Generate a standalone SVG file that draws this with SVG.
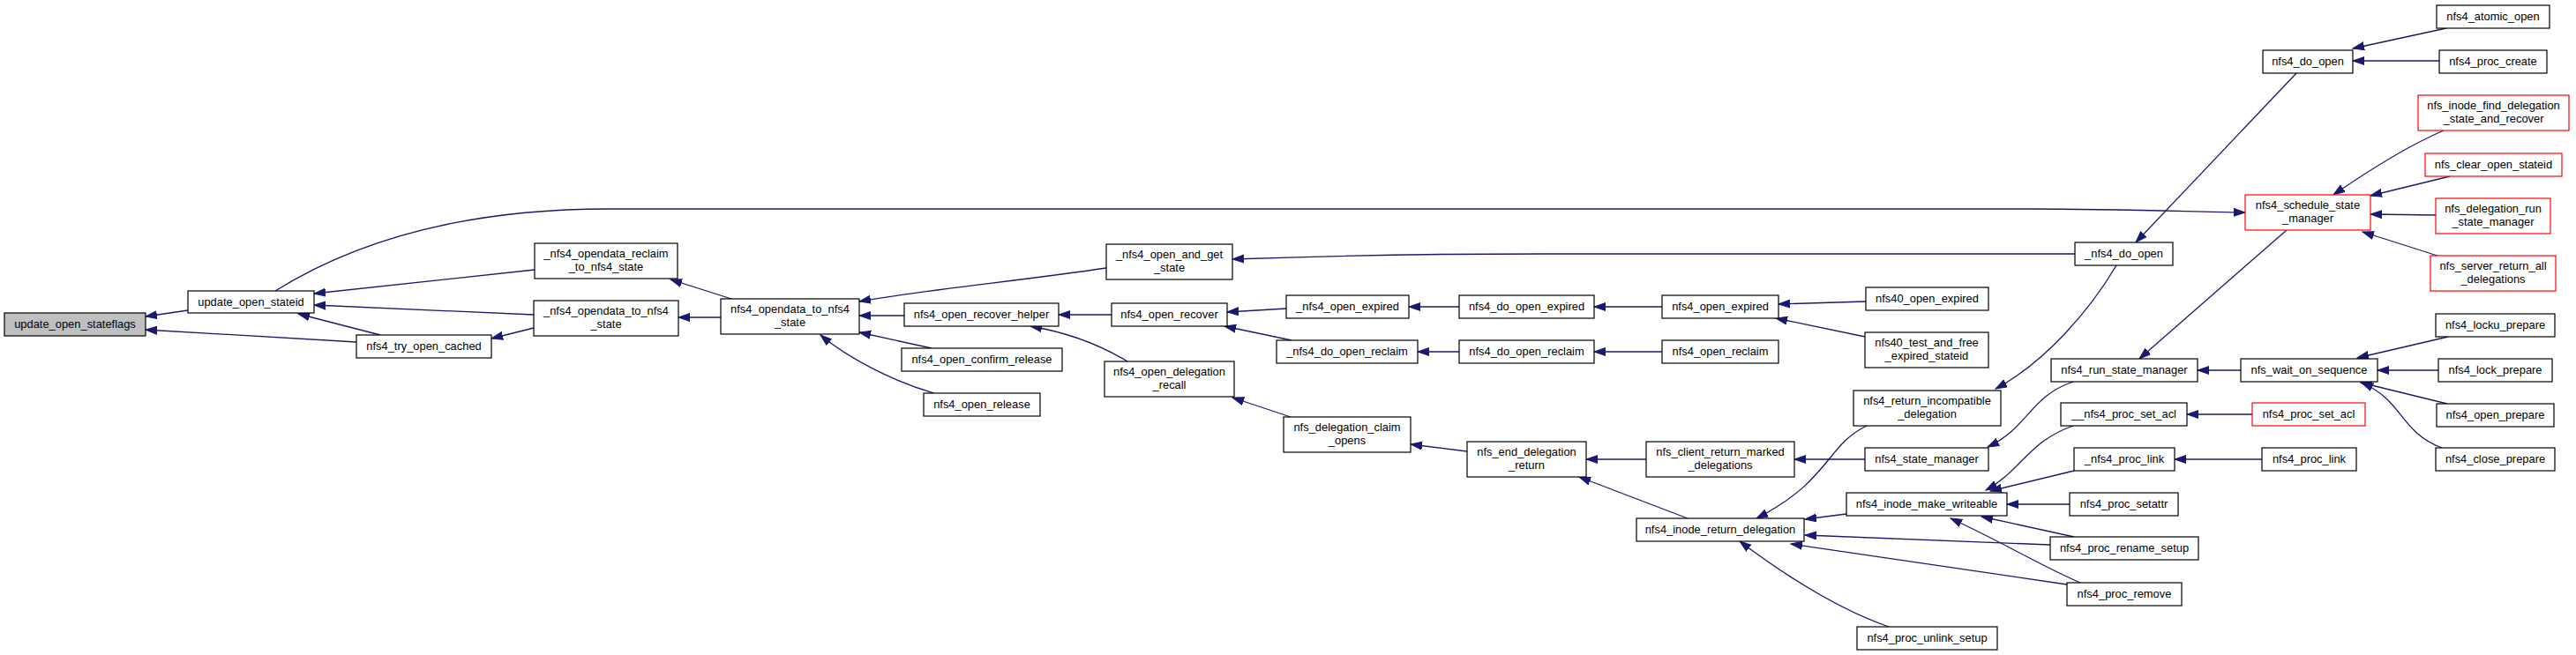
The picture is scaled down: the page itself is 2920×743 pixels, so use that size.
<svg xmlns="http://www.w3.org/2000/svg" width="2920" height="743" viewBox="0 0 2920 743">
<style>
.n rect{fill:#fff;stroke:#000;stroke-width:1.2}
.n.r rect{stroke:#ff0000}
.n.m rect{fill:#bfbfbf}
.n text{font-family:"Liberation Sans",Arial,sans-serif;font-size:12.9px;fill:#000;text-anchor:middle}
#edges path{fill:none;stroke:#191970;stroke-width:1.3;marker-end:url(#a)}
</style>
<defs>
<marker id="a" markerUnits="userSpaceOnUse" markerWidth="16" markerHeight="12" refX="13" refY="5" orient="auto"><path d="M0,0.5 L13,5 L0,9.5 z" fill="#191970" stroke="#191970" stroke-width="1"/></marker>
</defs>
<rect width="2920" height="743" fill="#fff"/>
<g id="edges">
<path d="M213,352 L165,359"/>
<path d="M404,388 L165,374"/>
<path d="M606,306 L356,333"/>
<path d="M605,357 L356,346"/>
<path d="M431,380 L338,356"/>
<path d="M605,372 L557,384"/>
<path d="M312,330 C400,275 520,237 690,237 L2300,237 C2400,237 2480,240 2545,241"/>
<path d="M829,339 L760,317"/>
<path d="M817,360 L769,360"/>
<path d="M1254,304 C1160,318 1040,330 974,342"/>
<path d="M1025,358 L974,358"/>
<path d="M1056,395 L974,377"/>
<path d="M1059,446 C1010,432 960,405 930,380"/>
<path d="M1260,357 L1200,357"/>
<path d="M1278,410 C1250,393 1215,378 1168,370"/>
<path d="M2352,288 L1750,288 C1600,288 1480,291 1397,294"/>
<path d="M1458,350 L1391,354"/>
<path d="M1464,386 L1388,370"/>
<path d="M1463,473 L1397,451"/>
<path d="M1654,348 L1597,348"/>
<path d="M1884,348 L1807,348"/>
<path d="M2115,342 L2016,345"/>
<path d="M2114,382 L2013,361"/>
<path d="M1654,399 L1607,399"/>
<path d="M1884,399 L1807,399"/>
<path d="M1663,512 L1599,504"/>
<path d="M1866,521 L1798,521"/>
<path d="M1913,588 L1790,541"/>
<path d="M2592,261 L2425,407"/>
<path d="M2604,82 L2421,275"/>
<path d="M2399,301 C2370,350 2320,410 2262,441"/>
<path d="M2773,32 L2667,55"/>
<path d="M2765,69 L2667,69"/>
<path d="M2770,148 C2730,165 2690,190 2645,221"/>
<path d="M2777,200 L2687,222"/>
<path d="M2761,244 L2687,243"/>
<path d="M2766,291 L2678,263"/>
<path d="M2540,420 L2491,420"/>
<path d="M2775,382 L2672,406"/>
<path d="M2764,420 L2695,420"/>
<path d="M2774,458 L2676,434"/>
<path d="M2768,508 C2720,490 2725,455 2677,434"/>
<path d="M2350,433 C2300,450 2300,485 2253,507"/>
<path d="M2114,521 L2034,521"/>
<path d="M2116,483 C2070,505 2075,545 1991,588"/>
<path d="M2553,470 L2479,470"/>
<path d="M2350,483 C2300,500 2290,535 2251,556"/>
<path d="M2564,521 L2465,521"/>
<path d="M2351,534 L2256,557"/>
<path d="M2346,572 L2275,572"/>
<path d="M2351,609 L2246,586"/>
<path d="M2358,661 C2310,640 2270,615 2211,588"/>
<path d="M2093,583 L2046,589"/>
<path d="M2324,618 L2046,607"/>
<path d="M2343,663 L2030,617"/>
<path d="M2141,711 C2080,690 2020,650 1972,614"/>
</g>
<g id="update_open_stateflags" class="n m"><rect x="5" y="355" width="160" height="26"/><text x="85" y="372">update_open_stateflags</text></g>
<g id="update_open_stateid" class="n"><rect x="213" y="330" width="143" height="25"/><text x="284.5" y="347">update_open_stateid</text></g>
<g id="nfs4_try_open_cached" class="n"><rect x="404" y="380" width="153" height="26"/><text x="480.5" y="397">nfs4_try_open_cached</text></g>
<g id="_nfs4_opendata_reclaim_to_nfs4_state" class="n"><rect x="606" y="276" width="162" height="40"/><text x="687" y="292">_nfs4_opendata_reclaim</text><text x="687" y="307">_to_nfs4_state</text></g>
<g id="_nfs4_opendata_to_nfs4_state" class="n"><rect x="605" y="341" width="164" height="40"/><text x="687" y="357">_nfs4_opendata_to_nfs4</text><text x="687" y="372">_state</text></g>
<g id="nfs4_opendata_to_nfs4_state" class="n"><rect x="817" y="339" width="157" height="40"/><text x="895.5" y="355">nfs4_opendata_to_nfs4</text><text x="895.5" y="370">_state</text></g>
<g id="nfs4_open_recover_helper" class="n"><rect x="1025" y="344" width="175" height="26"/><text x="1112.5" y="361">nfs4_open_recover_helper</text></g>
<g id="nfs4_open_confirm_release" class="n"><rect x="1022" y="395" width="182" height="26"/><text x="1113" y="412">nfs4_open_confirm_release</text></g>
<g id="nfs4_open_release" class="n"><rect x="1047" y="446" width="132" height="26"/><text x="1113" y="463">nfs4_open_release</text></g>
<g id="_nfs4_open_and_get_state" class="n"><rect x="1254" y="277" width="143" height="40"/><text x="1325.5" y="293">_nfs4_open_and_get</text><text x="1325.5" y="308">_state</text></g>
<g id="nfs4_open_recover" class="n"><rect x="1260" y="344" width="131" height="26"/><text x="1325.5" y="361">nfs4_open_recover</text></g>
<g id="nfs4_open_delegation_recall" class="n"><rect x="1252" y="410" width="147" height="40"/><text x="1325.5" y="426">nfs4_open_delegation</text><text x="1325.5" y="441">_recall</text></g>
<g id="_nfs4_open_expired" class="n"><rect x="1458" y="335" width="139" height="26"/><text x="1527.5" y="352">_nfs4_open_expired</text></g>
<g id="_nfs4_do_open_reclaim" class="n"><rect x="1447" y="386" width="160" height="26"/><text x="1527" y="403">_nfs4_do_open_reclaim</text></g>
<g id="nfs_delegation_claim_opens" class="n"><rect x="1455" y="473" width="144" height="40"/><text x="1527" y="489">nfs_delegation_claim</text><text x="1527" y="504">_opens</text></g>
<g id="nfs4_do_open_expired" class="n"><rect x="1654" y="335" width="153" height="26"/><text x="1730.5" y="352">nfs4_do_open_expired</text></g>
<g id="nfs4_do_open_reclaim" class="n"><rect x="1654" y="386" width="153" height="26"/><text x="1730.5" y="403">nfs4_do_open_reclaim</text></g>
<g id="nfs_end_delegation_return" class="n"><rect x="1663" y="501" width="135" height="40"/><text x="1730.5" y="517">nfs_end_delegation</text><text x="1730.5" y="532">_return</text></g>
<g id="nfs4_open_expired" class="n"><rect x="1884" y="335" width="132" height="26"/><text x="1950" y="352">nfs4_open_expired</text></g>
<g id="nfs4_open_reclaim" class="n"><rect x="1884" y="386" width="132" height="26"/><text x="1950" y="403">nfs4_open_reclaim</text></g>
<g id="nfs_client_return_marked_delegations" class="n"><rect x="1866" y="501" width="168" height="40"/><text x="1950" y="517">nfs_client_return_marked</text><text x="1950" y="532">_delegations</text></g>
<g id="nfs4_inode_return_delegation" class="n"><rect x="1855" y="588" width="190" height="26"/><text x="1950" y="605">nfs4_inode_return_delegation</text></g>
<g id="nfs40_open_expired" class="n"><rect x="2115" y="326" width="139" height="26"/><text x="2184.5" y="343">nfs40_open_expired</text></g>
<g id="nfs40_test_and_free_expired_stateid" class="n"><rect x="2114" y="377" width="140" height="40"/><text x="2184" y="393">nfs40_test_and_free</text><text x="2184" y="408">_expired_stateid</text></g>
<g id="nfs4_return_incompatible_delegation" class="n"><rect x="2101" y="443" width="167" height="40"/><text x="2184.5" y="459">nfs4_return_incompatible</text><text x="2184.5" y="474">_delegation</text></g>
<g id="nfs4_state_manager" class="n"><rect x="2114" y="508" width="140" height="26"/><text x="2184" y="525">nfs4_state_manager</text></g>
<g id="nfs4_inode_make_writeable" class="n"><rect x="2093" y="559" width="182" height="26"/><text x="2184" y="576">nfs4_inode_make_writeable</text></g>
<g id="nfs4_proc_unlink_setup" class="n"><rect x="2105" y="711" width="159" height="26"/><text x="2184.5" y="728">nfs4_proc_unlink_setup</text></g>
<g id="_nfs4_do_open" class="n"><rect x="2352" y="275" width="111" height="26"/><text x="2407.5" y="292">_nfs4_do_open</text></g>
<g id="nfs4_run_state_manager" class="n"><rect x="2325" y="407" width="166" height="26"/><text x="2408" y="424">nfs4_run_state_manager</text></g>
<g id="__nfs4_proc_set_acl" class="n"><rect x="2336" y="457" width="143" height="26"/><text x="2407.5" y="474">__nfs4_proc_set_acl</text></g>
<g id="_nfs4_proc_link" class="n"><rect x="2351" y="508" width="114" height="26"/><text x="2408" y="525">_nfs4_proc_link</text></g>
<g id="nfs4_proc_setattr" class="n"><rect x="2346" y="559" width="123" height="26"/><text x="2407.5" y="576">nfs4_proc_setattr</text></g>
<g id="nfs4_proc_rename_setup" class="n"><rect x="2324" y="609" width="168" height="26"/><text x="2408" y="626">nfs4_proc_rename_setup</text></g>
<g id="nfs4_proc_remove" class="n"><rect x="2343" y="661" width="130" height="26"/><text x="2408" y="678">nfs4_proc_remove</text></g>
<g id="nfs4_do_open" class="n"><rect x="2565" y="57" width="102" height="26"/><text x="2616" y="74">nfs4_do_open</text></g>
<g id="nfs4_schedule_state_manager" class="n r"><rect x="2545" y="221" width="142" height="40"/><text x="2616" y="237">nfs4_schedule_state</text><text x="2616" y="252">_manager</text></g>
<g id="nfs_wait_on_sequence" class="n"><rect x="2540" y="407" width="155" height="26"/><text x="2617.5" y="424">nfs_wait_on_sequence</text></g>
<g id="nfs4_proc_set_acl" class="n r"><rect x="2553" y="457" width="128" height="26"/><text x="2617" y="474">nfs4_proc_set_acl</text></g>
<g id="nfs4_proc_link" class="n"><rect x="2564" y="508" width="107" height="26"/><text x="2617.5" y="525">nfs4_proc_link</text></g>
<g id="nfs4_atomic_open" class="n"><rect x="2762" y="6" width="128" height="26"/><text x="2826" y="23">nfs4_atomic_open</text></g>
<g id="nfs4_proc_create" class="n"><rect x="2765" y="57" width="122" height="26"/><text x="2826" y="74">nfs4_proc_create</text></g>
<g id="nfs_inode_find_delegation_state_and_recover" class="n r"><rect x="2741" y="108" width="171" height="40"/><text x="2826.5" y="124">nfs_inode_find_delegation</text><text x="2826.5" y="139">_state_and_recover</text></g>
<g id="nfs_clear_open_stateid" class="n r"><rect x="2749" y="174" width="155" height="26"/><text x="2826.5" y="191">nfs_clear_open_stateid</text></g>
<g id="nfs_delegation_run_state_manager" class="n r"><rect x="2761" y="225" width="130" height="40"/><text x="2826" y="241">nfs_delegation_run</text><text x="2826" y="256">_state_manager</text></g>
<g id="nfs_server_return_all_delegations" class="n r"><rect x="2755" y="290" width="142" height="40"/><text x="2826" y="306">nfs_server_return_all</text><text x="2826" y="321">_delegations</text></g>
<g id="nfs4_locku_prepare" class="n"><rect x="2761" y="356" width="135" height="26"/><text x="2828.5" y="373">nfs4_locku_prepare</text></g>
<g id="nfs4_lock_prepare" class="n"><rect x="2764" y="407" width="129" height="26"/><text x="2828.5" y="424">nfs4_lock_prepare</text></g>
<g id="nfs4_open_prepare" class="n"><rect x="2762" y="458" width="133" height="26"/><text x="2828.5" y="475">nfs4_open_prepare</text></g>
<g id="nfs4_close_prepare" class="n"><rect x="2761" y="508" width="135" height="26"/><text x="2828.5" y="525">nfs4_close_prepare</text></g>
</svg>
